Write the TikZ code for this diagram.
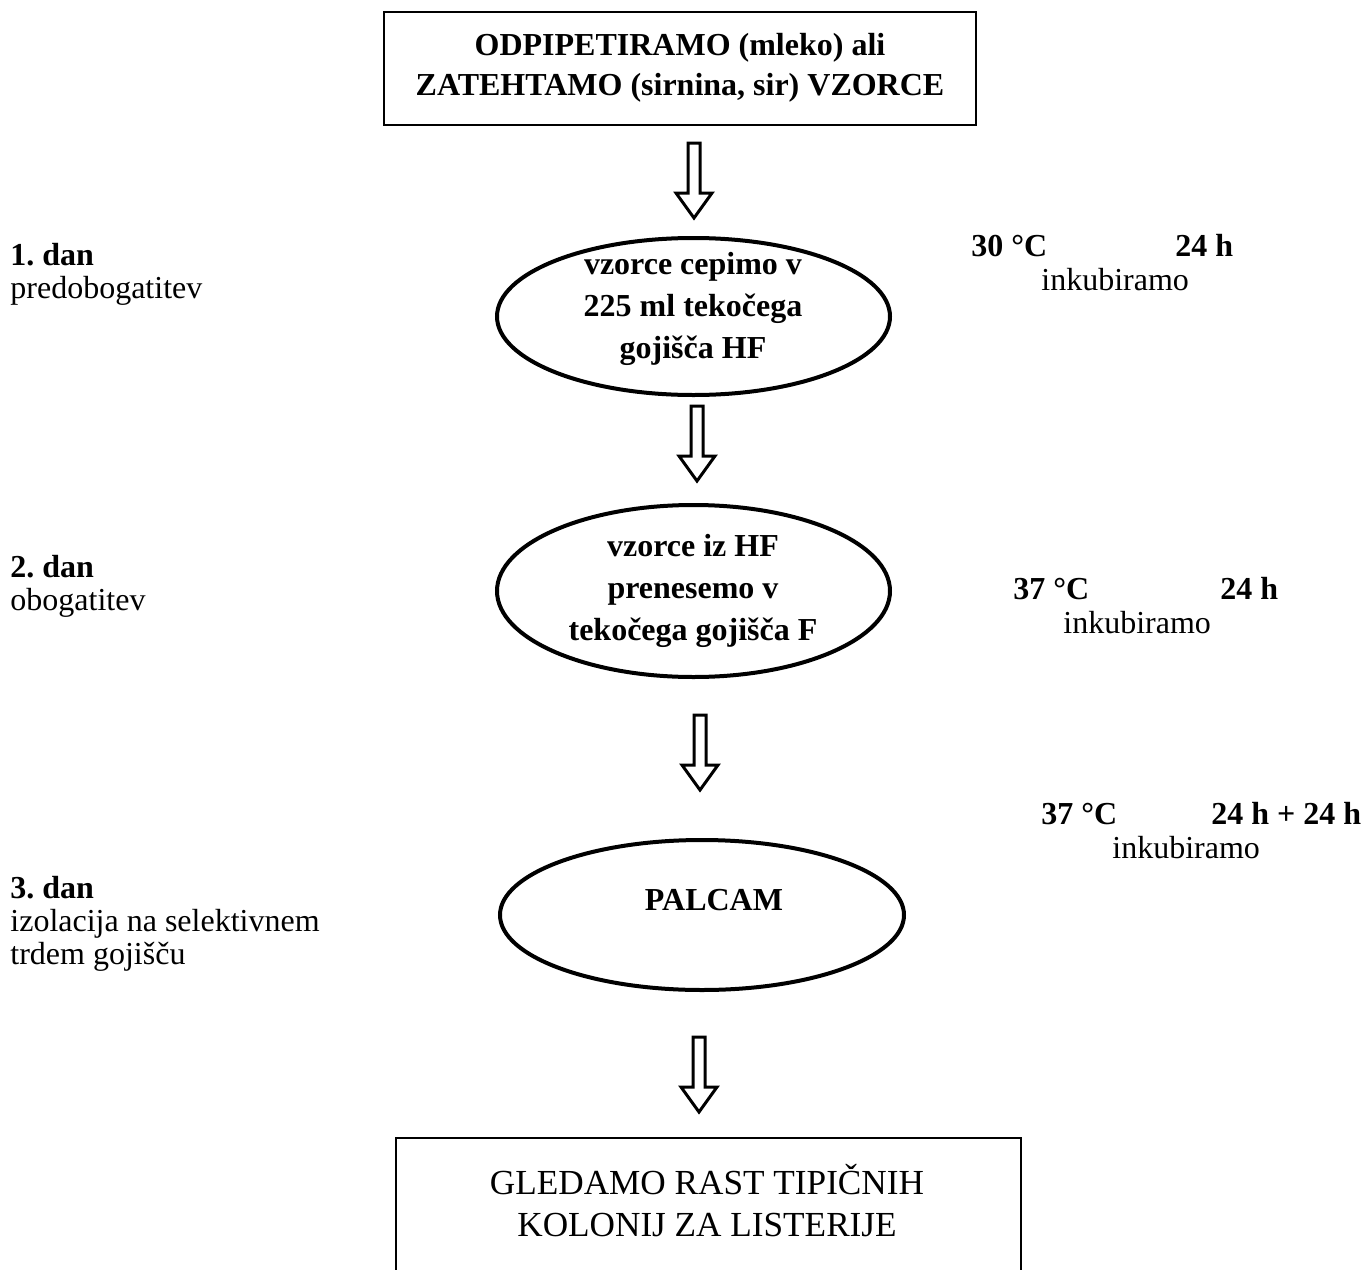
\documentclass[tikz,border=0pt]{standalone}
\usepackage{fontspec}
\setmainfont{Liberation Serif}
\usetikzlibrary{shapes.geometric}
\frenchspacing
\begin{document}
\begin{tikzpicture}[x=0.5pt,y=-0.5pt,
  txt/.style={inner sep=0pt, font=\fontsize{16}{18}\selectfont},
  btxt/.style={inner sep=0pt, font=\fontsize{16}{18}\selectfont\bfseries},
  ctxt/.style={inner sep=0pt, align=center, font=\fontsize{16}{20}\selectfont\bfseries},
  etxt/.style={inner sep=0pt, align=center, font=\fontsize{16}{21}\selectfont\bfseries},
  ell/.style={draw, ellipse, line width=2pt, inner sep=0pt},
  boxn/.style={draw, line width=1.3pt, inner sep=0pt},
  blockarrow/.pic={\draw[line width=1.5pt, fill=white, line join=miter]
     (-6,0) -- (6,0) -- (6,50) -- (18,50) -- (0,75) -- (-18,50) -- (-6,50) -- cycle;}
]
\useasboundingbox (0,0) rectangle (1367,1270);

% top box
\node[boxn, minimum width=296pt, minimum height=56.5pt] (top) at (680,68.5) {};
\node[ctxt] (toptxt) at (680,68) {ODPIPETIRAMO (mleko) ali\\ZATEHTAMO (sirnina, sir) VZORCE};

% ellipses
\node[ell, minimum width=196.5pt, minimum height=78.5pt] (e1) at (693.5,316.5) {};
\node[etxt] (e1txt) at (693,309) {vzorce cepimo v\\225 ml tekočega\\gojišča HF};

\node[ell, minimum width=196.5pt, minimum height=86pt] (e2) at (693.5,591) {};
\node[etxt] (e2txt) at (693,591) {vzorce iz HF\\prenesemo v\\tekočega gojišča F};

\node[ell, minimum width=202pt, minimum height=75pt] (e3) at (702,915) {};
\node[btxt] (e3txt) at (714,900) {PALCAM};

% bottom box (cut by the page edge)
\draw[line width=1.3pt] (396,1300) -- (396,1138) coordinate (bl) -- (1021,1138) coordinate (br) -- (1021,1300);
\node[inner sep=0pt, align=center, font=\fontsize{17.6}{21}\selectfont] (bottxt) at (707,1201) {GLEDAMO RAST TIPIČNIH\\KOLONIJ ZA LISTERIJE};

% block arrows
\pic at (694,143) {blockarrow};
\pic at (697,406) {blockarrow};
\pic at (700,715) {blockarrow};
\pic at (699,1037) {blockarrow};

% left labels
\node[btxt, anchor=base west] (d1) at (10,265) {1. dan};
\node[txt, anchor=base west] (d1b) at (10,298) {predobogatitev};
\node[btxt, anchor=base west] (d2) at (10,577) {2. dan};
\node[txt, anchor=base west] (d2b) at (10,610) {obogatitev};
\node[btxt, anchor=base west] (d3) at (10,898) {3. dan};
\node[txt, anchor=base west] (d3b) at (10,931) {izolacija na selektivnem};
\node[txt, anchor=base west] (d3c) at (10,964) {trdem gojišču};

% right labels
\node[btxt, anchor=base west] (t1) at (971,256) {30 °C};
\node[btxt, anchor=base west] (h1) at (1175,256) {24 h};
\node[txt, anchor=base west] (i1) at (1041,290) {inkubiramo};

\node[btxt, anchor=base west] (t2) at (1013,599) {37 °C};
\node[btxt, anchor=base west] (h2) at (1220,599) {24 h};
\node[txt, anchor=base west] (i2) at (1063,633) {inkubiramo};

\node[btxt, anchor=base west] (t3) at (1041,824) {37 °C};
\node[btxt, anchor=base west] (h3) at (1211,824) {24 h + 24 h};
\node[txt, anchor=base west] (i3) at (1112,858) {inkubiramo};
\end{tikzpicture}
\end{document}
